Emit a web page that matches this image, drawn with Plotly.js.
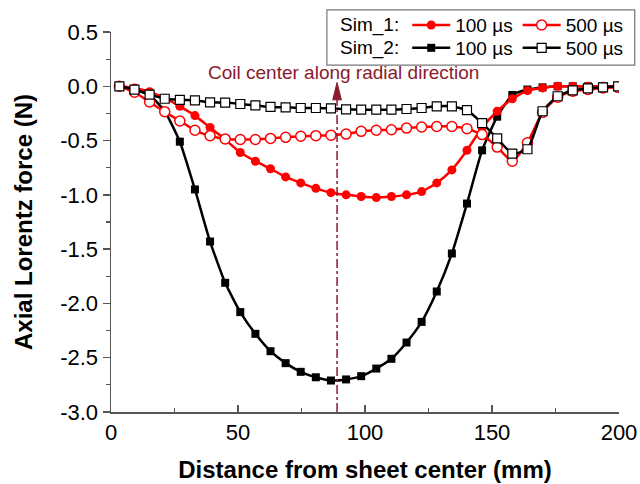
<!DOCTYPE html>
<html><head><meta charset="utf-8">
<script src="https://cdn.plot.ly/plotly-3.0.1.min.js"></script>
<style>html,body{margin:0;padding:0;background:#fff;}#chart{width:640px;height:484px;}</style>
</head><body><div id="chart"></div>
<script>
// Distance from sheet center (mm)
const distance = [3.3, 9.25, 15.2, 21.15, 27.1, 33.05, 39, 44.95, 50.9, 56.85, 62.8, 68.75, 74.7, 80.65, 86.6, 92.55, 98.5, 104.45, 110.4, 116.35, 122.3, 128.25, 134.2, 140.15, 146.1, 152.05, 158, 163.95, 169.9, 175.85, 181.8, 187.75, 193.7, 199.65];
// Axial Lorentz force (N)
const sim1_100 = [0, -0.015, -0.05, -0.11, -0.185, -0.27, -0.38, -0.49, -0.61, -0.69, -0.76, -0.835, -0.89, -0.94, -0.98, -1.0, -1.015, -1.025, -1.015, -1.0, -0.97, -0.89, -0.77, -0.59, -0.38, -0.23, -0.115, -0.04, -0.015, 0, 0, 0, 0, 0];
const sim1_500 = [0, -0.055, -0.145, -0.235, -0.32, -0.405, -0.455, -0.485, -0.49, -0.49, -0.48, -0.47, -0.46, -0.455, -0.45, -0.44, -0.415, -0.405, -0.40, -0.385, -0.375, -0.37, -0.37, -0.39, -0.445, -0.56, -0.69, -0.52, -0.24, -0.10, -0.045, -0.03, -0.015, -0.01];
const sim2_100 = [0, -0.03, -0.08, -0.23, -0.51, -0.95, -1.43, -1.81, -2.08, -2.28, -2.44, -2.55, -2.63, -2.68, -2.71, -2.70, -2.67, -2.60, -2.51, -2.36, -2.17, -1.89, -1.54, -1.08, -0.59, -0.28, -0.08, -0.03, -0.01, 0, 0, 0, 0, 0];
const sim2_500 = [0, -0.03, -0.077, -0.115, -0.125, -0.13, -0.148, -0.15, -0.163, -0.175, -0.19, -0.194, -0.2, -0.2, -0.203, -0.212, -0.215, -0.215, -0.215, -0.209, -0.2, -0.185, -0.185, -0.22, -0.34, -0.48, -0.62, -0.58, -0.23, -0.092, -0.037, -0.02, -0.01, 0];

const seriesNames = ['100 µs', '500 µs'];
const rowLabels = ['Sim_1:', 'Sim_2:'];
const xTickVals = [0, 50, 100, 150, 200];
const xTickText = ['0', '50', '100', '150', '200'];
const xMinorVals = [25, 75, 125, 175];
const yTickVals = [0.5, 0, -0.5, -1, -1.5, -2, -2.5, -3];
const yTickText = ['0.5', '0.0', '-0.5', '-1.0', '-1.5', '-2.0', '-2.5', '-3.0'];
const yMinorVals = [0.25, -0.25, -0.75, -1.25, -1.75, -2.25, -2.75];
const coilCenter = 89;
const annotationText = 'Coil center along radial direction';

const FONT = '"Liberation Sans", Arial, sans-serif';
const RED = '#ff0000';
const MAROON = '#8b1a2c';
const AX = '#555555';

const traces = [
  {x: distance, y: sim2_100, name: seriesNames[0], legend: 'legend2', type: 'scatter', mode: 'lines+markers',
   line: {color: '#000', width: 2.5, shape: 'spline', smoothing: 0.5},
   marker: {symbol: 'square', size: 8, color: '#000'}},
  {x: distance, y: sim1_100, name: seriesNames[0], legend: 'legend', type: 'scatter', mode: 'lines+markers',
   line: {color: RED, width: 2.5, shape: 'spline', smoothing: 0.5},
   marker: {symbol: 'circle', size: 9, color: RED}},
  {x: distance, y: sim1_500, name: seriesNames[1], legend: 'legend', type: 'scatter', mode: 'lines+markers',
   line: {color: RED, width: 2.5, shape: 'spline', smoothing: 0.5},
   marker: {symbol: 'circle', size: 10, color: '#fff', line: {color: RED, width: 1.5}}},
  {x: distance, y: sim2_500, name: seriesNames[1], legend: 'legend2', type: 'scatter', mode: 'lines+markers',
   line: {color: '#000', width: 2.5, shape: 'spline', smoothing: 0.5},
   marker: {symbol: 'square', size: 9, color: '#fff', line: {color: '#000', width: 1.2}}}
];

const axisCommon = {
  showline: true, linecolor: AX, linewidth: 1.5, showgrid: false, zeroline: false,
  tickcolor: AX, tickwidth: 1.5, ticklen: 7, tickfont: {size: 22, color: '#000'},
  tickmode: 'array'
};

const legendCommon = {
  orientation: 'h', xanchor: 'left', yanchor: 'top', x: 0.447,
  bgcolor: 'rgba(0,0,0,0)', borderwidth: 0, font: {size: 19, color: '#000'},
  itemwidth: 38, tracegroupgap: 0
};

const layout = {
  width: 640, height: 484,
  margin: {l: 111, r: 21, t: 32, b: 72, autoexpand: false},
  paper_bgcolor: '#fff', plot_bgcolor: '#fff',
  font: {family: FONT, size: 19, color: '#000'},
  showlegend: true,
  xaxis: Object.assign({}, axisCommon, {
    range: [0, 200], tickvals: xTickVals, ticktext: xTickText, ticks: 'inside',
    minor: {tickvals: xMinorVals, ticks: 'inside', ticklen: 4, tickcolor: AX, tickwidth: 1.2, showgrid: false},
    title: {text: '<b>Distance from sheet center (mm)</b>', font: {size: 24, color: '#000'}, standoff: 17}
  }),
  yaxis: Object.assign({}, axisCommon, {
    range: [-3, 0.5], tickvals: yTickVals, ticktext: yTickText, ticks: 'outside',
    minor: {tickvals: yMinorVals, ticks: 'outside', ticklen: 4, tickcolor: AX, tickwidth: 1.2, showgrid: false},
    title: {text: '<b>Axial Lorentz force (N)</b>', font: {size: 24, color: '#000'}, standoff: 21}
  }),
  legend: Object.assign({}, legendCommon, {y: 1.068, title: {text: rowLabels[0], side: 'left', font: {size: 19}}}),
  legend2: Object.assign({}, legendCommon, {y: 1.008, title: {text: rowLabels[1], side: 'left', font: {size: 19}}}),
  shapes: [
    {type: 'rect', xref: 'paper', yref: 'paper', x0: 0.425, x1: 1.031, y0: 0.913, y1: 1.058,
     line: {color: '#777', width: 1.2}, fillcolor: 'rgba(0,0,0,0)', layer: 'above'},
    {type: 'line', xref: 'x', yref: 'y', x0: coilCenter, x1: coilCenter, y0: -3, y1: -0.11,
     line: {color: MAROON, width: 1.5, dash: 'dashdot'}},
    {type: 'path', xref: 'x', yref: 'y',
     path: `M ${coilCenter - 1.7},-0.125 L ${coilCenter + 1.7},-0.125 L ${coilCenter},0.035 Z`,
     fillcolor: MAROON, line: {color: MAROON, width: 1}}
  ],
  annotations: [
    {x: 91.7, y: 0.126, xref: 'x', yref: 'y', text: annotationText, showarrow: false,
     font: {size: 19, color: MAROON}, xanchor: 'center', yanchor: 'middle'}
  ]
};

Plotly.newPlot('chart', traces, layout, {displayModeBar: false, staticPlot: true});
</script>
</body></html>
